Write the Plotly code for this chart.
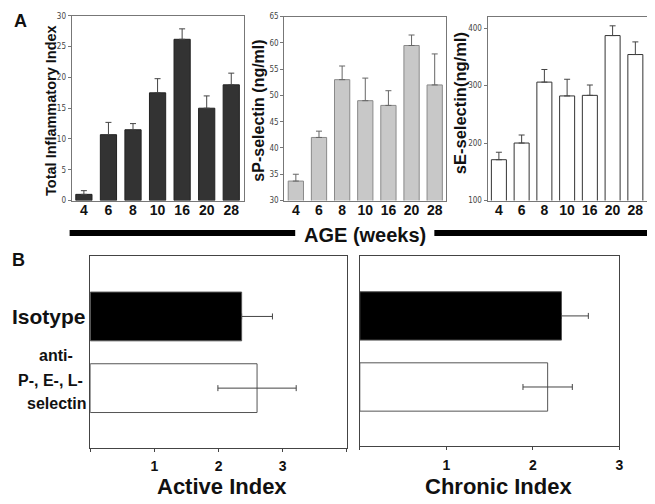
import plotly.graph_objects as go

# ---------------- data ----------------
ages = ["4", "6", "8", "10", "16", "20", "28"]
inflam_index = [1.0, 10.7, 11.5, 17.5, 26.2, 15.0, 18.8]
inflam_err = [0.6, 2.0, 1.0, 2.3, 1.7, 2.0, 1.9]
sp_selectin = [33.7, 42.0, 53.0, 49.0, 48.1, 59.5, 52.0]
sp_err = [1.3, 1.2, 2.6, 4.3, 2.8, 2.0, 5.9]
se_selectin = [171, 200, 306, 282, 283, 387, 354]
se_err = [13, 14, 22, 29, 18, 17, 22]

groups = ["Isotype", "anti-P-, E-, L-selectin"]
group_pos = [1, 0]
active_index = [2.36, 2.60]
active_err_plus = [0.48, 0.61]
active_err_minus = [0.0, 0.61]
chronic_index = [2.33, 2.17]
chronic_err_plus = [0.31, 0.285]
chronic_err_minus = [0.0, 0.285]

# page body has an 8px margin: the figure is drawn offset by 8px
OFF = 8
W, H = 655 - OFF, 504 - OFF
def px(x):
    return (x - OFF) / W
def py(y):
    return 1 - (y - OFF) / H

fig = go.Figure()

BOLD = "Liberation Sans, Arial, sans-serif"
NARROW = "Liberation Sans Narrow, DejaVu Sans Condensed, Arial Narrow, sans-serif"

# ---- Panel A bars ----
fig.add_trace(go.Bar(
    x=ages, y=inflam_index, xaxis="x", yaxis="y",
    marker=dict(color="#333333", line=dict(color="#222222", width=1)),
    error_y=dict(type="data", symmetric=False, array=inflam_err,
                 arrayminus=[0] * len(ages), color="#444444", thickness=1, width=3),
    showlegend=False))
fig.add_trace(go.Bar(
    x=ages, y=sp_selectin, xaxis="x2", yaxis="y2",
    marker=dict(color="#c8c8c8", line=dict(color="#8a8a8a", width=1)),
    error_y=dict(type="data", symmetric=False, array=sp_err,
                 arrayminus=[0] * len(ages), color="#666666", thickness=1, width=3),
    showlegend=False))
fig.add_trace(go.Bar(
    x=ages, y=se_selectin, xaxis="x3", yaxis="y3",
    marker=dict(color="#ffffff", line=dict(color="#333333", width=1)),
    error_y=dict(type="data", symmetric=False, array=se_err,
                 arrayminus=[0] * len(ages), color="#444444", thickness=1, width=3),
    showlegend=False))

# ---- Panel B bars ----
bar_colors = ["#000000", "#ffffff"]
for i in range(2):
    fig.add_trace(go.Bar(
        x=[active_index[i]], y=[group_pos[i]], orientation="h", width=0.68,
        xaxis="x4", yaxis="y4",
        marker=dict(color=bar_colors[i], line=dict(color="#555555", width=1)),
        error_x=dict(type="data", symmetric=False, array=[active_err_plus[i]],
                     arrayminus=[active_err_minus[i]], color="#444444", thickness=1, width=3),
        showlegend=False, name=groups[i]))
    fig.add_trace(go.Bar(
        x=[chronic_index[i]], y=[group_pos[i]], orientation="h", width=0.68,
        xaxis="x5", yaxis="y5",
        marker=dict(color=bar_colors[i], line=dict(color="#555555", width=1)),
        error_x=dict(type="data", symmetric=False, array=[chronic_err_plus[i]],
                     arrayminus=[chronic_err_minus[i]], color="#444444", thickness=1, width=3),
        showlegend=False, name=groups[i]))

a_xaxis = dict(type="category", showline=True, mirror=True, linecolor="#777777",
               linewidth=1, ticks="", showgrid=False, zeroline=False,
               ticklabelstandoff=-3,
               tickfont=dict(family=BOLD, size=14, color="#111111", weight="bold"))
a_yaxis = dict(showline=True, mirror=True, linecolor="#777777", linewidth=1,
               ticks="outside", ticklen=3, tickcolor="#777777", showgrid=False,
               zeroline=False, tickfont=dict(family=NARROW, size=8, color="#444444"))

b_xaxis = dict(showline=True, mirror=True, linecolor="#444444", linewidth=1,
               ticks="outside", ticklen=3, tickcolor="#444444", showgrid=False,
               zeroline=False, ticklabelstandoff=3,
               tickfont=dict(family=BOLD, size=14, color="#111111", weight="bold"))
b_yaxis = dict(showline=True, mirror=True, linecolor="#444444", linewidth=1,
               showticklabels=False, ticks="", showgrid=False, zeroline=False,
               range=[-0.83, 1.85])

fig.update_layout(
    width=W, height=H, margin=dict(l=0, r=0, t=0, b=0),
    paper_bgcolor="white", plot_bgcolor="white", bargap=0.34,
    xaxis=dict(a_xaxis, domain=[px(72), px(245)], anchor="y"),
    yaxis=dict(a_yaxis, domain=[py(200), py(12)], range=[0, 30], dtick=5, anchor="x"),
    xaxis2=dict(a_xaxis, domain=[px(286), px(449)], anchor="y2"),
    yaxis2=dict(a_yaxis, domain=[py(200), py(12.7)], range=[30, 65], dtick=5, anchor="x2"),
    xaxis3=dict(a_xaxis, domain=[px(490.5), px(650.7)], anchor="y3"),
    yaxis3=dict(a_yaxis, domain=[py(200), py(12.7)], range=[100, 420],
                tickvals=[100, 200, 300, 400], anchor="x3"),
    xaxis4=dict(b_xaxis, domain=[px(90.7), px(349)], range=[0, 4],
                tickvals=[0, 1, 2, 3, 4], ticktext=["", "1", "2", "3", ""], anchor="y4"),
    yaxis4=dict(b_yaxis, domain=[py(451.7), py(256)], anchor="x4"),
    xaxis5=dict(b_xaxis, domain=[px(362), px(623.3)], range=[0, 3],
                tickvals=[0, 1, 2, 3], ticktext=["", "1", "2", "3"], anchor="y5"),
    yaxis5=dict(b_yaxis, domain=[py(450), py(256)], anchor="x5"),
)

def ann(text, x, y, size, angle=0, xanchor="center", yanchor="middle", color="#111111"):
    fig.add_annotation(text=text, x=px(x), y=py(y), xref="paper", yref="paper",
                       showarrow=False, textangle=angle, xanchor=xanchor, yanchor=yanchor,
                       font=dict(family=BOLD, size=size, color=color, weight="bold"))

# panel letters
ann("A", 20.5, 17.5, 18)
ann("B", 19, 261, 18)
# axis titles A
ann("Total Inflammatory Index", 51, 108, 14.5, angle=-90)
ann("sP-selectin (ng/ml)", 260, 108, 16, angle=-90)
ann("sE-selectin(ng/ml)", 462.7, 101, 16.5, angle=-90)
ann("AGE (weeks)", 367, 235, 20)
# B labels
ann("Isotype", 88, 318, 21, xanchor="right")
ann("anti-", 56, 358, 16)
ann("P-, E-, L-", 51, 383, 16)
ann("selectin", 57, 406.7, 16)
ann("Active Index", 223, 477, 22, yanchor="top")
ann("Chronic Index", 501.7, 477, 22, yanchor="top")

# thick black rules
for x0, x1 in [(70, 297), (437, 653)]:
    fig.add_shape(type="line", xref="paper", yref="paper",
                  x0=px(x0), x1=px(x1), y0=py(233), y1=py(233),
                  line=dict(color="black", width=6))

fig.write_html("out.html")
